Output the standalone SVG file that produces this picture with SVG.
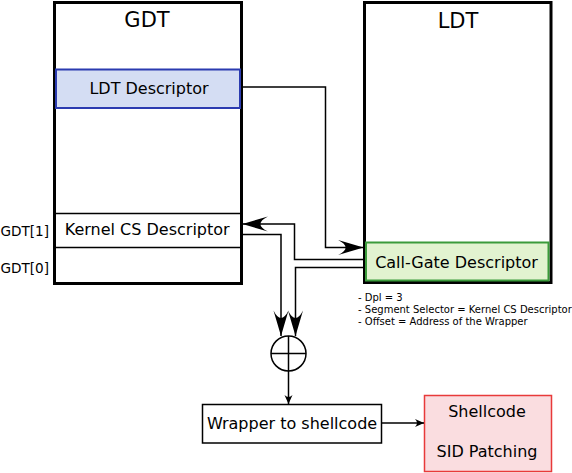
<svg xmlns="http://www.w3.org/2000/svg" width="572" height="473" viewBox="0 0 572 473">
  <style>
    text { font-family: "DejaVu Sans", "Liberation Sans", sans-serif; fill: #000; }
    .title { font-size: 21px; text-anchor: middle; }
    .lbl { font-size: 16px; text-anchor: middle; }
    .idx { font-size: 13.6px; text-anchor: end; }
    .note { font-size: 10px; }
    .frame { fill: #fff; stroke: #000; stroke-width: 3; }
    .row { stroke: #000; stroke-width: 1.3; fill: none; }
    .box { fill: #fff; stroke: #000; stroke-width: 1.5; }
    .conn { fill: none; stroke: #000; stroke-width: 1.5; }
  </style>
  <defs>
    <marker id="big" markerUnits="userSpaceOnUse" orient="auto" markerWidth="30" markerHeight="20" refX="0" refY="0" viewBox="-24 -8 26 16" overflow="visible">
      <path d="M0,0 L-22,-6.5 Q-9,0 -22,6.5 Z" fill="#000"/>
    </marker>
    <marker id="small" markerUnits="userSpaceOnUse" orient="auto" markerWidth="14" markerHeight="12" refX="0" refY="0" viewBox="-12 -6 14 12" overflow="visible">
      <path d="M0,0 L-9,-4 Q-5,0 -9,4 Z" fill="#000"/>
    </marker>
  </defs>

  <g id="gdt">
    <rect class="frame" x="54.5" y="2.5" width="187" height="281"/>
    <text class="title" x="147" y="27">GDT</text>
  </g>
  <g id="ldt-descriptor">
    <rect x="56" y="69.5" width="184" height="38.5" fill="#d4ddf3" stroke="#2b3bb0" stroke-width="2"/>
    <text class="lbl" x="149" y="94">LDT Descriptor</text>
  </g>
  <g id="kernel-cs">
    <line class="row" x1="55" y1="213.5" x2="241" y2="213.5"/>
    <line class="row" x1="55" y1="247.5" x2="241" y2="247.5"/>
    <text class="lbl" x="147.2" y="235">Kernel CS Descriptor</text>
  </g>
  <g id="gdt-index">
    <text class="idx" x="49" y="235.5">GDT[1]</text>
    <text class="idx" x="49" y="273">GDT[0]</text>
  </g>

  <g id="ldt">
    <rect class="frame" x="364.5" y="2.5" width="186.5" height="280"/>
    <text class="title" x="458" y="28">LDT</text>
  </g>
  <g id="call-gate">
    <rect x="366" y="242.5" width="182.5" height="38" fill="#e2f3d0" stroke="#3b9b3b" stroke-width="2"/>
    <text class="lbl" x="456.5" y="268">Call-Gate Descriptor</text>
  </g>
  <g id="call-gate-notes">
    <text class="note" x="358" y="301">- Dpl = 3</text>
    <text class="note" x="358" y="312.8">- Segment Selector = Kernel CS Descriptor</text>
    <text class="note" x="358" y="325">- Offset = Address of the Wrapper</text>
  </g>

  <g id="adder">
    <circle cx="288.5" cy="353.5" r="17.5" fill="#fff" stroke="#000" stroke-width="1.5"/>
    <line x1="271" y1="353.5" x2="306" y2="353.5" stroke="#000" stroke-width="1.5"/>
    <line x1="288.5" y1="336" x2="288.5" y2="371" stroke="#000" stroke-width="1.5"/>
  </g>

  <g id="wrapper">
    <rect class="box" x="202.5" y="404.5" width="179" height="38.5"/>
    <text class="lbl" x="292" y="429">Wrapper to shellcode</text>
  </g>

  <g id="shellcode">
    <rect x="424.5" y="395.5" width="127" height="76" fill="#fadde0" stroke="#e83a3a" stroke-width="1.5"/>
    <text class="lbl" x="487" y="417">Shellcode</text>
    <text class="lbl" x="487" y="457">SID Patching</text>
  </g>

  <g id="connectors">
    <path class="conn" d="M241,87 H325.5 V247.5 H363.5" marker-end="url(#big)"/>
    <path class="conn" d="M364,259.5 H294.5 V224 H242.5" marker-end="url(#big)"/>
    <path class="conn" d="M241,234.5 H281 V336" marker-end="url(#big)"/>
    <path class="conn" d="M364,267.5 H295.5 V336" marker-end="url(#big)"/>
    <path class="conn" d="M288.5,371 V404" marker-end="url(#small)"/>
    <path class="conn" d="M382,423 H424" marker-end="url(#small)"/>
  </g>
</svg>
